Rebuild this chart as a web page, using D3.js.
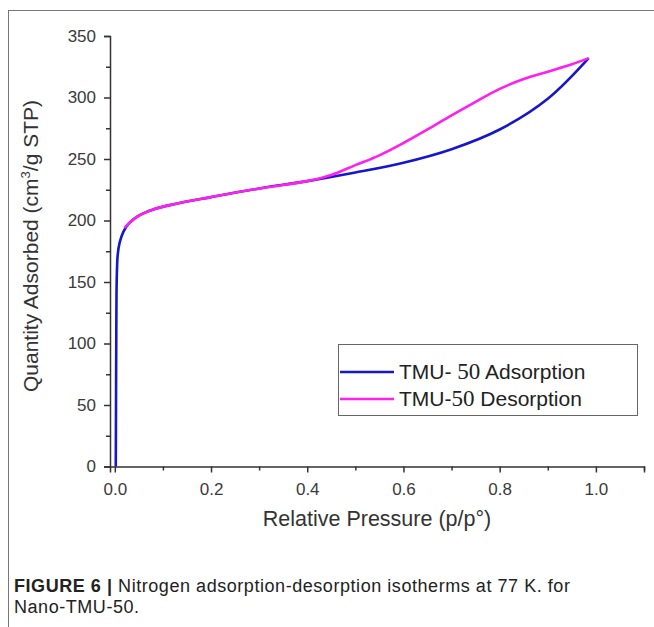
<!DOCTYPE html>
<html>
<head>
<meta charset="utf-8">
<script src="https://cdn.jsdelivr.net/npm/d3@7"></script>
<style>
  body { margin: 0; background: #fff; }
  svg { display: block; }
  .serif { font-family: "Liberation Serif", "DejaVu Serif", serif; }
</style>
</head>
<body>
<svg id="chart" width="654" height="627"></svg>
<script>
// adsorption branch (p/p0, quantity)
const adsP = [0.002, 0.0025, 0.003, 0.0035, 0.0045, 0.006, 0.01, 0.018, 0.03, 0.05, 0.08, 0.12, 0.2, 0.3, 0.4, 0.5, 0.6, 0.7, 0.8, 0.9, 0.985];
const adsQ = [0, 50, 100, 140, 160, 172, 182, 191, 198, 204, 209, 213, 219, 226, 232, 239, 247, 258, 274, 299, 332];
// desorption branch
const desP = [0.985, 0.95, 0.9, 0.85, 0.8, 0.75, 0.7, 0.65, 0.6, 0.55, 0.5, 0.45, 0.4, 0.3, 0.2, 0.12, 0.08, 0.05, 0.03, 0.02];
const desQ = [332, 327, 321, 315, 307, 296.5, 285.5, 274, 263, 253, 245, 237, 232, 226, 219, 213, 209, 204, 198, 194];

const xTicks = [0, 0.2, 0.4, 0.6, 0.8, 1.0];
const xMinor = [0.1, 0.3, 0.5, 0.7, 0.9, 1.1];
const yTicks = [0, 50, 100, 150, 200, 250, 300, 350];
const yMinor = [25, 75, 125, 175, 225, 275, 325];
const seriesNames = ["Adsorption", "Desorption"];
const seriesColors = ["#1616cc", "#ff1ff0"];

const svg = d3.select("#chart");
const axisColor = "#333";
const sans = "'Liberation Sans', Arial, sans-serif";

// frame lines of the figure panel
svg.append("line").attr("x1", 8).attr("x2", 654).attr("y1", 10.5).attr("y2", 10.5)
  .attr("stroke", "#777").attr("stroke-width", 1);
svg.append("line").attr("x1", 8.5).attr("x2", 8.5).attr("y1", 10).attr("y2", 627)
  .attr("stroke", "#777").attr("stroke-width", 1);

const x = d3.scaleLinear().domain([-0.01, 1.1]).range([110, 644]);
const y = d3.scaleLinear().domain([0, 350]).range([466.5, 36]);

const g = svg.append("g");

// axes
const xAxis = g.append("g").attr("transform", `translate(0,${y(0)})`)
  .call(d3.axisBottom(x).tickValues(xTicks).tickFormat(d3.format(".1f")).tickSizeOuter(0).tickSize(6));
g.append("g").attr("transform", `translate(0,${y(0)})`)
  .call(d3.axisBottom(x).tickValues(xMinor).tickFormat("").tickSizeOuter(0).tickSize(4))
  .select(".domain").remove();
const yAxis = g.append("g").attr("transform", `translate(${x(-0.01)},0)`)
  .call(d3.axisLeft(y).tickValues(yTicks).tickSizeOuter(0).tickSize(6));
g.append("g").attr("transform", `translate(${x(-0.01)},0)`)
  .call(d3.axisLeft(y).tickValues(yMinor).tickFormat("").tickSizeOuter(0).tickSize(4))
  .select(".domain").remove();

g.selectAll(".domain, .tick line").attr("stroke", axisColor).attr("stroke-width", 1.5);
g.selectAll(".tick text").attr("fill", "#3a3a3a")
  .style("font-family", sans).style("font-size", "17px");
xAxis.selectAll(".tick text").attr("y", 28).attr("dy", 0);
yAxis.selectAll(".tick text").attr("x", -14);

// axis titles
svg.append("text").attr("x", 377).attr("y", 526).attr("text-anchor", "middle")
  .attr("fill", "#333").style("font-family", sans).style("font-size", "21.5px")
  .text("Relative Pressure (p/p°)");

const yl = svg.append("text").attr("transform", "translate(38,246) rotate(-90)").attr("text-anchor", "middle")
  .attr("fill", "#333").style("font-family", sans).style("font-size", "21px");
yl.append("tspan").text("Quantity Adsorbed (cm");
yl.append("tspan").attr("dy", -8).style("font-size", "13px").text("3");
yl.append("tspan").attr("dy", 8).text("/g STP)");

// curves
const line = d3.line().x(d => x(d[0])).y(d => y(d[1])).curve(d3.curveCatmullRom.alpha(0.5));
const ads = adsP.map((p, i) => [p, adsQ[i]]);
const des = desP.map((p, i) => [p, desQ[i]]);
g.append("path").datum(ads).attr("d", line).attr("fill", "none")
  .attr("stroke", seriesColors[0]).attr("stroke-width", 2.6);
g.append("path").datum(des).attr("d", line).attr("fill", "none")
  .attr("stroke", seriesColors[1]).attr("stroke-width", 2.6);

// legend
const lg = svg.append("g");
lg.append("rect").attr("x", 338.5).attr("y", 344.5).attr("width", 299).attr("height", 71)
  .attr("fill", "#fff").attr("stroke", "#666").attr("stroke-width", 1);
seriesNames.forEach((name, i) => {
  const ly = 372 + i * 27;
  lg.append("line").attr("x1", 340).attr("x2", 394).attr("y1", ly).attr("y2", ly)
    .attr("stroke", seriesColors[i]).attr("stroke-width", 2.6);
  const t = lg.append("text").attr("x", 399).attr("y", ly + 7)
    .attr("fill", "#222").style("font-family", sans).style("font-size", "21px");
  t.append("tspan").text(i === 0 ? "TMU- " : "TMU-");
  t.append("tspan").attr("class", "serif").attr("font-family", "Liberation Serif")
    .style("font-family", "'Liberation Serif', 'DejaVu Serif', serif").style("font-size", "23px").text("50");
  t.append("tspan").text(" " + name);
});

// caption
const cap = svg.append("text").attr("x", 14).attr("y", 592).attr("fill", "#222")
  .style("font-family", sans).style("font-size", "18px").style("letter-spacing", "0.55px");
cap.append("tspan").style("font-weight", "bold").text("FIGURE 6 | ");
cap.append("tspan").text("Nitrogen adsorption-desorption isotherms at 77 K. for");
svg.append("text").attr("x", 14).attr("y", 613).attr("fill", "#222")
  .style("font-family", sans).style("font-size", "18px").style("letter-spacing", "0.55px")
  .text("Nano-TMU-50.");
</script>
</body>
</html>
